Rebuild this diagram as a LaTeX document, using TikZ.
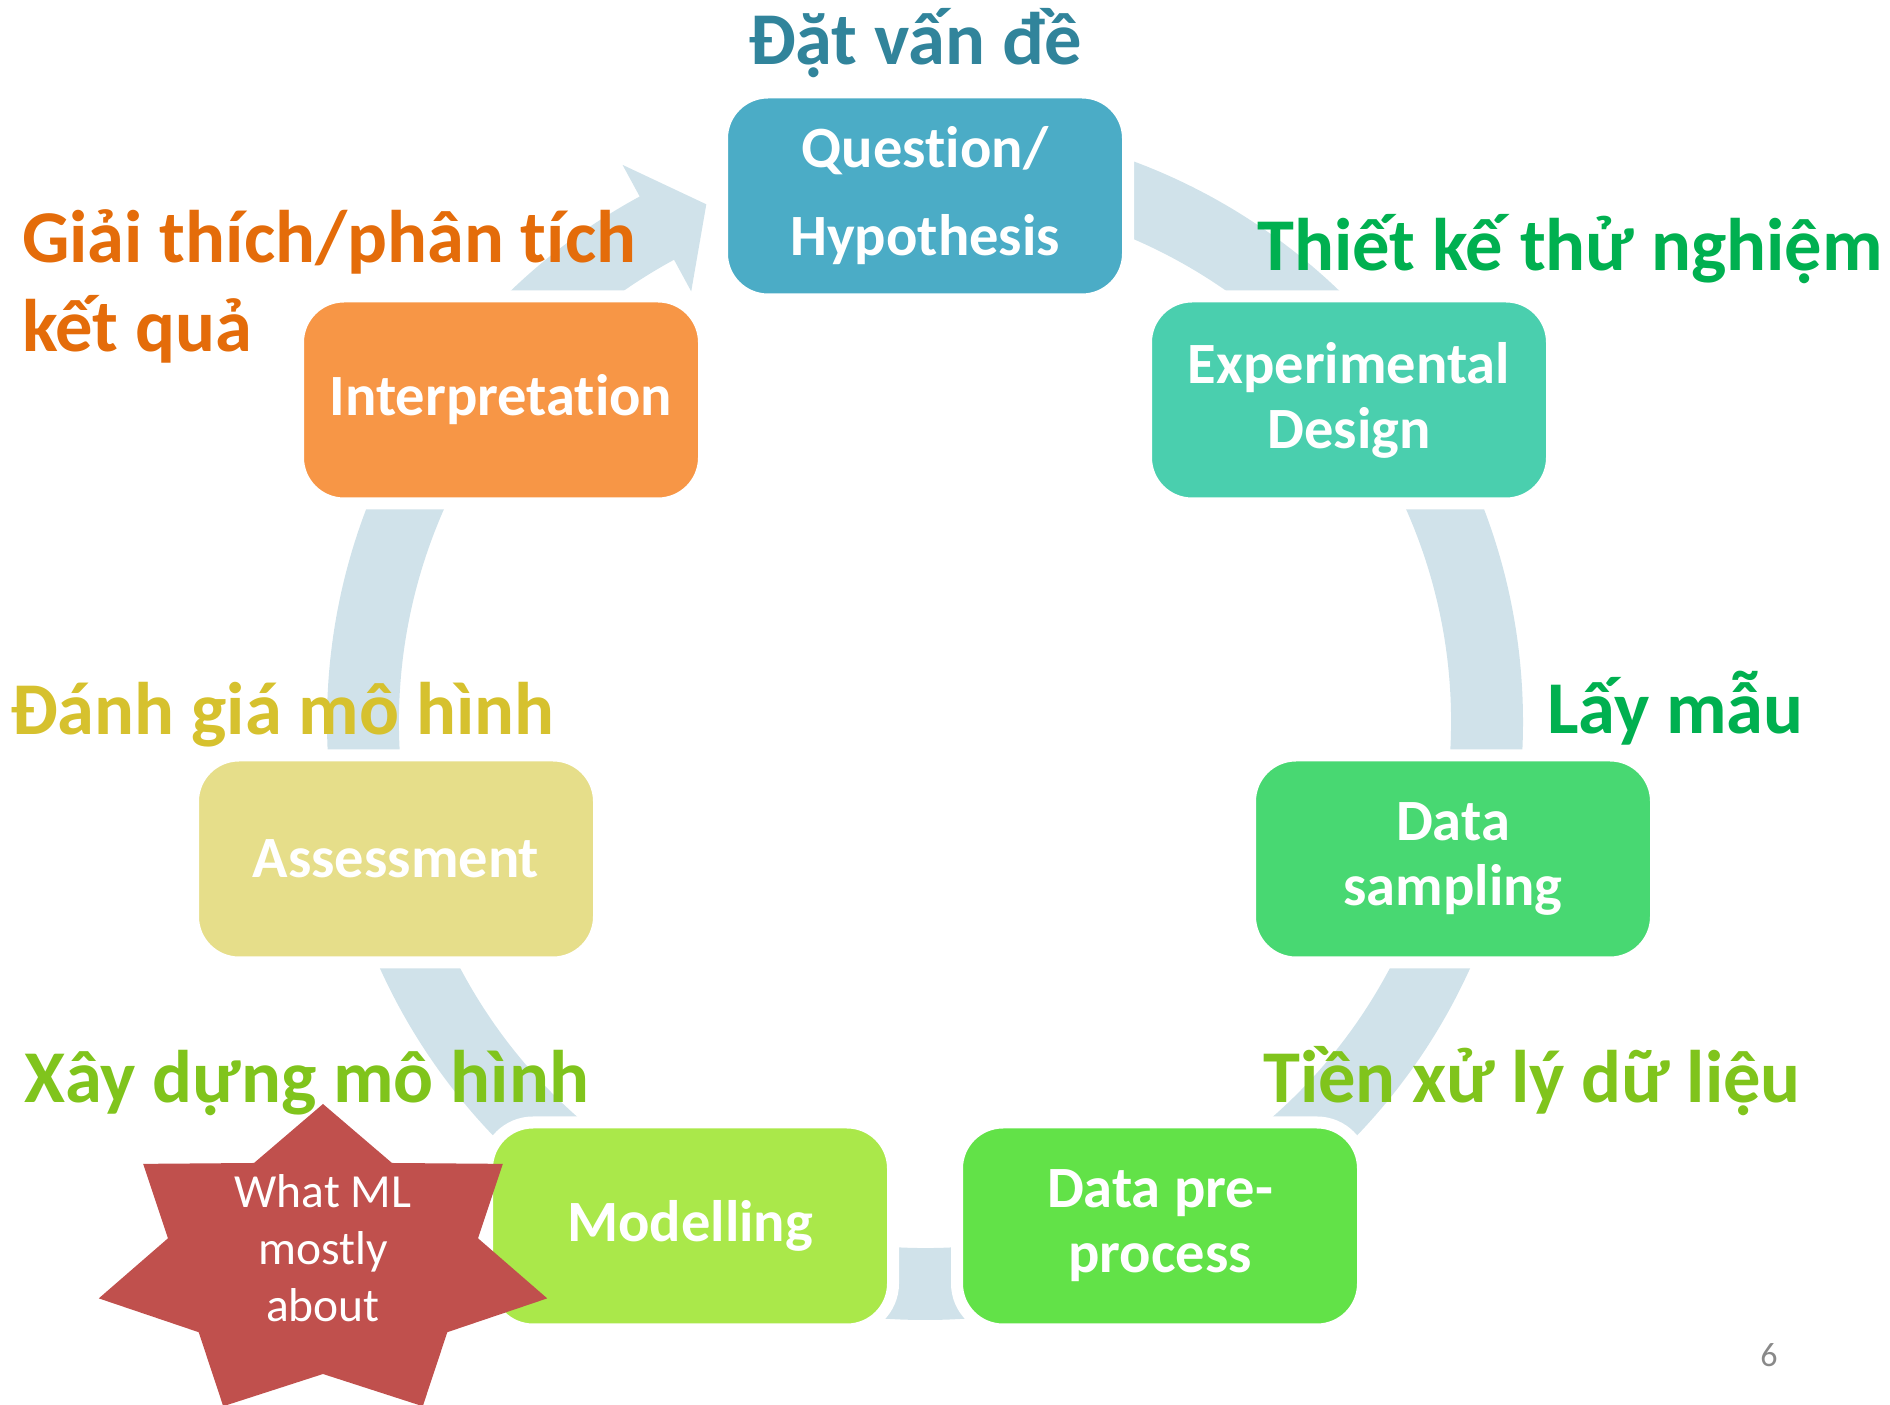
\documentclass[tikz,border=0pt]{standalone}
\usepackage{fontspec}
\setmainfont{Carlito}[RawFeature=-liga, RawFeature=-clig, RawFeature=-dlig, RawFeature=-calt]
% keeps the letters t and i apart
\newcommand{\splitti}{t\kern0pt i}
\definecolor{bandc}{RGB}{208,226,234}
\definecolor{qfill}{RGB}{75,172,198}
\definecolor{efill}{RGB}{74,207,174}
\definecolor{sfill}{RGB}{72,216,114}
\definecolor{pfill}{RGB}{98,226,72}
\definecolor{mfill}{RGB}{170,232,74}
\definecolor{afill}{RGB}{230,222,138}
\definecolor{ifill}{RGB}{247,150,70}
\definecolor{starc}{RGB}{192,80,77}
\definecolor{qtext}{RGB}{49,132,155}
\definecolor{gtext}{RGB}{0,176,80}
\definecolor{ltext}{RGB}{128,196,28}
\definecolor{ytext}{RGB}{214,193,46}
\definecolor{otext}{RGB}{228,108,10}
\definecolor{pagec}{RGB}{137,137,137}
\begin{document}
\begin{tikzpicture}[x=1pt,y=1pt,
  stage/.style={rounded corners=46pt, draw=white, line width=12pt,
    minimum width=406pt, minimum height=207pt, text=white, align=center,
    inner sep=0pt, font=\bfseries\fontsize{58.5}{65}\selectfont},
  phase/.style={font=\bfseries\fontsize{74.5}{89}\selectfont, inner sep=0pt,
    anchor=base west},
]
\useasboundingbox (0,0) rectangle (1890,1405);

% continuous cycle band with its arrowhead
\begin{scope}[shift={(925,683)}]
  \fill[bandc] (90:598) arc[start angle=90, end angle=-241.5, radius=598]
    -- (118.5:634) -- (112.9:562) -- (118.5:490) -- (118.5:526)
    arc[start angle=-241.5, end angle=90, radius=526] -- cycle;
\end{scope}

% stages
\node[stage, fill=qfill, font=\bfseries\fontsize{58.5}{88}\selectfont] (question) at (925,1209) {Ques\splitti on/\\Hypothesis};
\node[stage, fill=efill] (design) at (1349,1005) {Experimental\\Design};
\node[stage, fill=sfill] (sampling) at (1453,546) {Data\\sampling};
\node[stage, fill=pfill] (preprocess) at (1160,179) {Data pre-\\process};
\node[stage, fill=mfill] (modelling) at (690,179) {Modelling};
\node[stage, fill=afill] (assessment) at (396,546) {Assessment};
\node[stage, fill=ifill] (interpretation) at (501,1005) {Interpreta\splitti on};

% Vietnamese phase labels
\node[phase, text=qtext, anchor=base] (datvande) at (915,1340) {Đặt vấn đề};
\node[phase, text=gtext] (thietke) at (1257,1134) {Thiết kế thử nghiệm};
\node[phase, text=gtext] (laymau) at (1547,671) {Lấy mẫu};
\node[phase, text=ltext] (tienxuly) at (1263,302) {Tiền xử lý dữ liệu};
\node[phase, text=ltext] (xaydung) at (24,302) {Xây dựng mô hình};
\node[phase, text=ytext] (danhgia) at (10,670) {Đánh giá mô hình};
\node[phase, text=otext] (giaithich1) at (22,1142) {Giải thích/phân t\kern0pt ích};
\node[phase, text=otext] (giaithich2) at (22,1053) {kết quả};

% seven-point star callout
\begin{scope}[shift={(323,142)}]
  \fill[starc] (90:230 and 159) -- (115.71:159 and 111) -- (141.43:230 and 159)
    -- (167.14:159 and 111) -- (192.86:230 and 159) -- (218.57:159 and 111)
    -- (244.29:230 and 159) -- (270:159 and 111) -- (295.71:230 and 159)
    -- (321.43:159 and 111) -- (347.14:230 and 159) -- (372.86:159 and 111)
    -- (398.57:230 and 159) -- (424.29:159 and 111) -- cycle;
\end{scope}
\node[text=white, align=center, inner sep=0pt, font=\fontsize{47.5}{57}\selectfont] (mlnote) at (323,157) {What ML\\mostly\\about};

% page number
\node[text=pagec, anchor=base, inner sep=0pt, font=\fontsize{34}{40}\selectfont] (pagenum) at (1769,38) {6};
\end{tikzpicture}
\end{document}
